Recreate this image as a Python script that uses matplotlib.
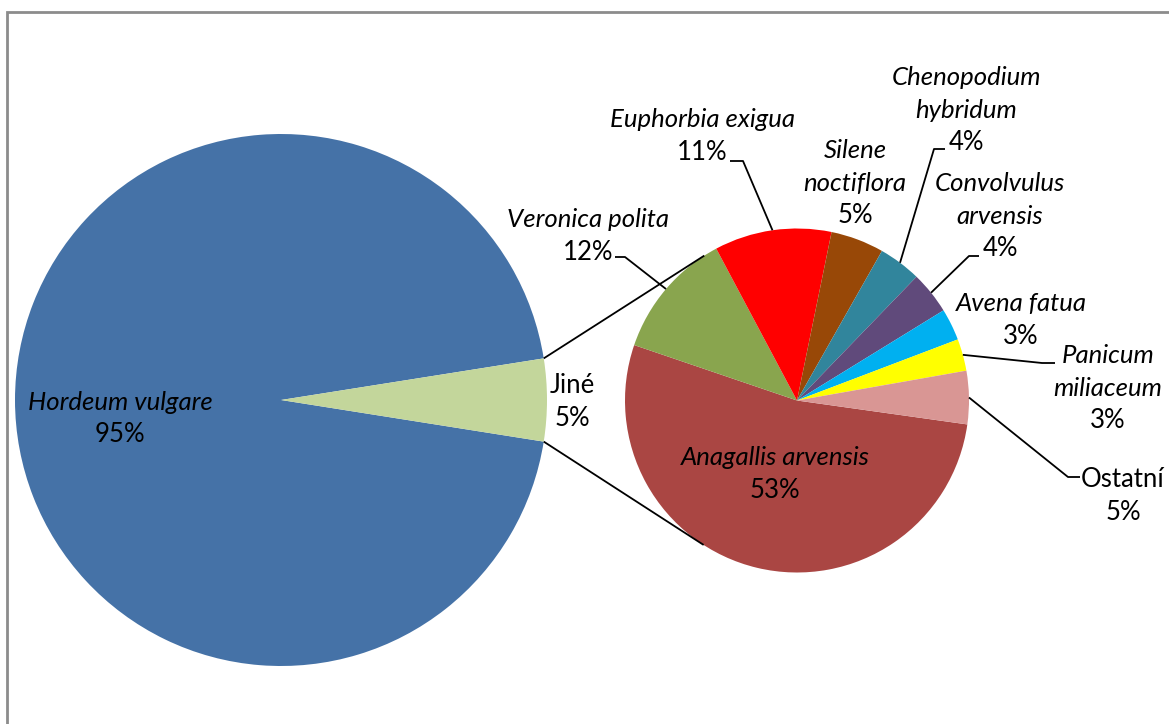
import numpy as np
import matplotlib.pyplot as plt
from matplotlib.patches import Rectangle

plt.rcParams['font.family'] = ['Lato', 'DejaVu Sans']

W, H = 1169, 724

# main pie
main_names = ['Hordeum vulgare', 'Jiné']
main_values = [95, 5]
main_colors = ['#4572A7', '#C3D69B']

# breakdown of "Jiné"
sub_names = ['Anagallis arvensis', 'Veronica polita', 'Euphorbia exigua',
             'Silene noctiflora', 'Chenopodium hybridum', 'Convolvulus arvensis',
             'Avena fatua', 'Panicum miliaceum', 'Ostatní']
sub_values = [53, 12, 11, 5, 4, 4, 3, 3, 5]
sub_colors = ['#AA4643', '#89A54E', '#FF0000', '#984807', '#31859C',
              '#604A7B', '#00B0F0', '#FFFF00', '#D99694']

# label text lines (italic names, upright percentages)
main_lines = [['Hordeum vulgare'], ['Jiné']]
main_italic = [True, False]
sub_lines = [['Anagallis arvensis'], ['Veronica polita'], ['Euphorbia exigua'],
             ['Silene', 'noctiflora'], ['Chenopodium', 'hybridum'],
             ['Convolvulus', 'arvensis'], ['Avena fatua'], ['Panicum', 'miliaceum'],
             ['Ostatní']]
sub_italic = [True, True, True, True, True, True, True, True, False]


def yy(y):
    # screen-style y (from top) to axes y
    return H - y


fig = plt.figure(figsize=(W / 100, H / 100), dpi=100)
ax = fig.add_axes([0, 0, 1, 1])

# chart frame
fig.patches.append(Rectangle((7 / W, -0.1), 1.2, (H - 12) / H + 0.1,
                             transform=fig.transFigure, fill=False,
                             edgecolor='#8C8C8C', linewidth=2))

c1, r1 = (281, yy(400)), 266
c2, r2 = (797, yy(400.5)), 172

w1, _ = ax.pie(main_values, colors=main_colors, startangle=9,
               center=c1, radius=r1, frame=True,
               wedgeprops=dict(linewidth=0))
w2, _ = ax.pie(sub_values, colors=sub_colors, startangle=-8, counterclock=False,
               center=c2, radius=r2, frame=True,
               wedgeprops=dict(linewidth=0))
ax.set_xlim(0, W)
ax.set_ylim(0, H)
ax.set_aspect('equal')
ax.axis('off')

# connector lines from the "Jiné" slice, tangent to the second pie
jine = w1[1]
cx2, cy2 = c2
for ang, side in [(jine.theta2, 1), (jine.theta1, -1)]:
    px = c1[0] + r1 * np.cos(np.radians(ang))
    py = c1[1] + r1 * np.sin(np.radians(ang))
    d = np.hypot(px - cx2, py - cy2)
    phi = np.degrees(np.arctan2(py - cy2, px - cx2))
    t = np.radians(phi - side * np.degrees(np.arccos(r2 / d)))
    ax.plot([px, cx2 + r2 * np.cos(t)], [py, cy2 + r2 * np.sin(t)],
            color='black', lw=1.3, solid_capstyle='butt')

FS = 18.5
LINE = 32.5


def draw_label(x, base, lines, italic, pct):
    rows = [(s, italic) for s in lines] + [(pct, False)]
    for i, (s, it) in enumerate(rows):
        ax.text(x, yy(base + i * LINE), s, ha='center', va='baseline',
                fontsize=FS, style='italic' if it else 'normal', color='black')


# label positions (x, baseline of first line)
main_pos = [(120, 410), (572, 393)]
for (x, y), lines, it, v in zip(main_pos, main_lines, main_italic, main_values):
    draw_label(x, y, lines, it, f'{v}%')

sub_pos = [(775, 465), (588, 227), (702, 127), (855, 158), (966, 85),
           (1000, 191), (1021, 311), (1108, 363), (1123, 487)]
for (x, y), lines, it, v in zip(sub_pos, sub_lines, sub_italic, sub_values):
    draw_label(x, y, lines, it, f'{v}%')

# leader lines: elbow points next to each label
leaders = {
    1: [(625, 257), (615, 257)],
    2: [(743, 161), (730, 161)],
    4: [(934, 149), (945, 149)],
    5: [(969, 256), (979, 256)],
    7: [(1042, 363), (1055, 363)],
    8: [(1068, 477), (1080, 477)],
}
for i, pts in leaders.items():
    w = w2[i]
    mid = np.radians((w.theta1 + w.theta2) / 2)
    xs = [cx2 + r2 * np.cos(mid)] + [p[0] for p in pts]
    ys = [cy2 + r2 * np.sin(mid)] + [yy(p[1]) for p in pts]
    ax.plot(xs, ys, color='black', lw=1.3, solid_capstyle='butt')

fig.savefig('out.png', dpi=100)
